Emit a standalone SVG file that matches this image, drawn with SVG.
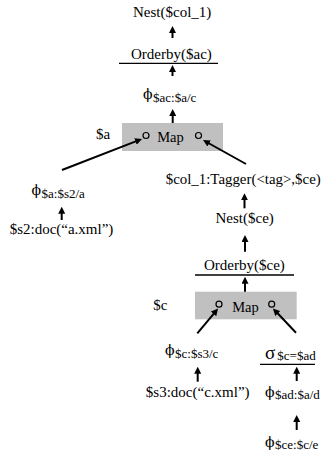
<svg xmlns="http://www.w3.org/2000/svg" width="323" height="468" viewBox="0 0 323 468">
<defs>
<style>
.t{font-family:"Liberation Serif","Times New Roman",serif;font-size:15px;fill:#000}
.m{font-family:"Liberation Serif","Times New Roman",serif;font-size:14.5px;fill:#000}
.sub{font-family:"Liberation Serif","Times New Roman",serif;font-size:13px;fill:#000}
.gr{font-family:"DejaVu Serif","Liberation Serif",serif;font-size:14px;fill:#000}
.sg{font-family:"Liberation Serif","DejaVu Serif",serif;font-size:19px;fill:#000}
.box{fill:#c0c0c0;stroke:none}
.port{fill:none;stroke:#000;stroke-width:1.2}
.rule{stroke:#000;stroke-width:1.3}
.edge{stroke:#000;stroke-width:2;fill:none;marker-end:url(#ah)}
</style>
<marker id="ah" viewBox="0 0 7 7" markerWidth="7" markerHeight="7" markerUnits="userSpaceOnUse" refX="3" refY="3.5" orient="auto">
<path d="M0,0 L7,3.5 L0,7 z" fill="#000"/>
</marker>
</defs>
<rect width="323" height="468" fill="#fff"/>

<g id="nest_col1"><text class="t" x="133" y="17">Nest($col_1)</text></g>
<g id="orderby_ac"><text class="t" x="131" y="58.5">Orderby($ac)</text><line class="rule" x1="119" y1="63.3" x2="218" y2="63.3"/></g>
<g id="phi_ac"><text class="gr" x="143" y="99">ϕ</text><text class="sub" x="153" y="101.5">$ac:$a/c</text></g>
<g id="map1">
<rect class="box" x="122" y="123" width="101" height="28"/>
<circle class="port" cx="146" cy="135.5" r="3"/>
<circle class="port" cx="198.5" cy="135.5" r="3"/>
<text class="m" x="170.5" y="142" text-anchor="middle">Map</text>
</g>
<g id="var_a"><text class="t" x="96" y="138.5">$a</text></g>
<g id="phi_a"><text class="gr" x="31.5" y="195">ϕ</text><text class="sub" x="41.5" y="197.5">$a:$s2/a</text></g>
<g id="doc_a"><text class="t" x="61.5" y="234" text-anchor="middle">$s2:doc(“a.xml”)</text></g>
<g id="tagger"><text class="t" x="165.7" y="184.3" textLength="155" lengthAdjust="spacingAndGlyphs">$col_1:Tagger(&lt;tag&gt;,$ce)</text></g>
<g id="nest_ce"><text class="t" x="215.5" y="223">Nest($ce)</text></g>
<g id="orderby_ce"><text class="t" x="204" y="270">Orderby($ce)</text><line class="rule" x1="195" y1="275" x2="294" y2="275"/></g>
<g id="map2">
<rect class="box" x="195" y="291.7" width="101.7" height="27.6"/>
<circle class="port" cx="219" cy="304.2" r="3"/>
<circle class="port" cx="271.7" cy="304.2" r="3"/>
<text class="m" x="245.5" y="311.5" text-anchor="middle">Map</text>
</g>
<g id="var_c"><text class="t" x="153.3" y="310">$c</text></g>
<g id="phi_c"><text class="gr" x="165" y="355">ϕ</text><text class="sub" x="175" y="357.5">$c:$s3/c</text></g>
<g id="doc_c"><text class="t" x="197.7" y="396.7" text-anchor="middle">$s3:doc(“c.xml”)</text></g>
<g id="sigma"><text class="sg" x="265" y="359">σ</text><text class="sub" x="277.3" y="360">$c=$ad</text><line class="rule" x1="260" y1="364.3" x2="315" y2="364.3"/></g>
<g id="phi_ad"><text class="gr" x="265" y="397">ϕ</text><text class="sub" x="275" y="399.3">$ad:$a/d</text></g>
<g id="phi_ce"><text class="gr" x="265" y="447">ϕ</text><text class="sub" x="275" y="449.3">$ce:$c/e</text></g>

<g id="connectors">
<line class="edge" x1="172.5" y1="38" x2="172.5" y2="30"/>
<line class="edge" x1="172.5" y1="76" x2="172.5" y2="69"/>
<line class="edge" x1="172.7" y1="123" x2="172.7" y2="113"/>
<line class="edge" x1="62" y1="170" x2="138.3" y2="140.4"/>
<line class="edge" x1="246" y1="164" x2="206.5" y2="142"/>
<line class="edge" x1="61.7" y1="220" x2="61.7" y2="210.7"/>
<line class="edge" x1="244.5" y1="208.3" x2="244.5" y2="197.3"/>
<line class="edge" x1="245" y1="251.7" x2="245" y2="239"/>
<line class="edge" x1="245" y1="291.7" x2="245" y2="280.7"/>
<line class="edge" x1="197.3" y1="333.3" x2="215.5" y2="311.6"/>
<line class="edge" x1="296" y1="332.7" x2="275.7" y2="311.3"/>
<line class="edge" x1="197.7" y1="381.7" x2="197.7" y2="370.7"/>
<line class="edge" x1="296.7" y1="381" x2="296.7" y2="370.7"/>
<line class="edge" x1="296.7" y1="430" x2="296.7" y2="419"/>
</g>
</svg>
